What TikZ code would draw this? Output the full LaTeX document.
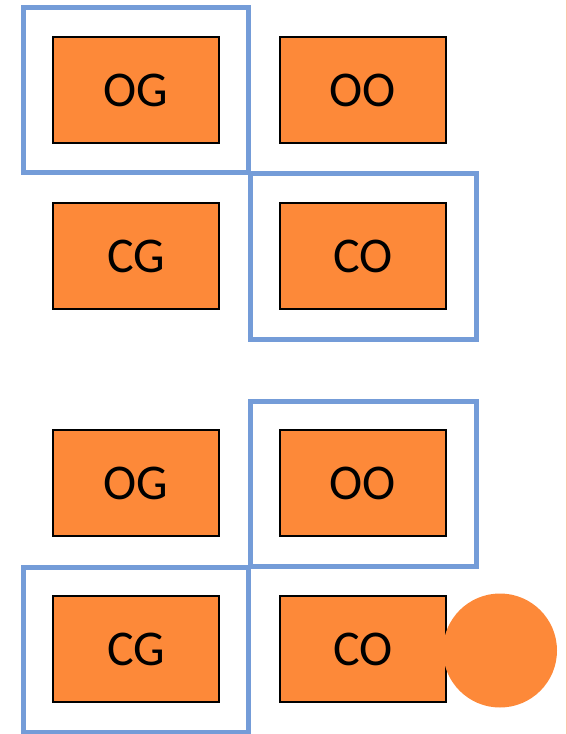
\documentclass[tikz,border=0pt]{standalone}
\usepackage{fontspec}
\setmainfont{Carlito}
\definecolor{boxorange}{RGB}{253,137,57}
\definecolor{frameblue}{RGB}{116,156,216}
\definecolor{edgeline}{RGB}{252,196,168}
\begin{document}
\begin{tikzpicture}[x=1pt,y=-1pt,
  cell/.style={draw=black,line width=1.5pt,fill=boxorange,minimum width=166pt,minimum height=106pt,inner sep=0pt,font=\fontsize{50}{52}\selectfont},
  frame/.style={draw=frameblue,line width=5pt}]
\useasboundingbox (0,0) rectangle (567,734);
\draw[edgeline,line width=1.2pt] (566.3,0) -- (566.3,734);
% frames
\draw[frame] (23,7) rectangle (248.5,172.5);
\draw[frame] (250,173) rectangle (476,339);
\draw[frame] (250,401) rectangle (476,566);
\draw[frame] (23,567) rectangle (248.5,732);
% cells
\node[cell] (og1) at (136,90) {\raisebox{-1.5pt}{OG}};
\node[cell] (oo1) at (363,90) {\raisebox{-1.5pt}{OO}};
\node[cell] (cg1) at (136,256) {\raisebox{-1.5pt}{CG}};
\node[cell] (co1) at (363,256) {\raisebox{-1.5pt}{CO}};
\node[cell] (og2) at (136,483) {\raisebox{-1.5pt}{OG}};
\node[cell] (oo2) at (363,483) {\raisebox{-1.5pt}{OO}};
\node[cell] (cg2) at (136,649) {\raisebox{-1.5pt}{CG}};
\node[cell] (co2) at (363,649) {\raisebox{-1.5pt}{CO}};
\node[circle,fill=boxorange,minimum size=114pt,inner sep=0pt] (dot) at (500,650.5) {};
\end{tikzpicture}
\end{document}
